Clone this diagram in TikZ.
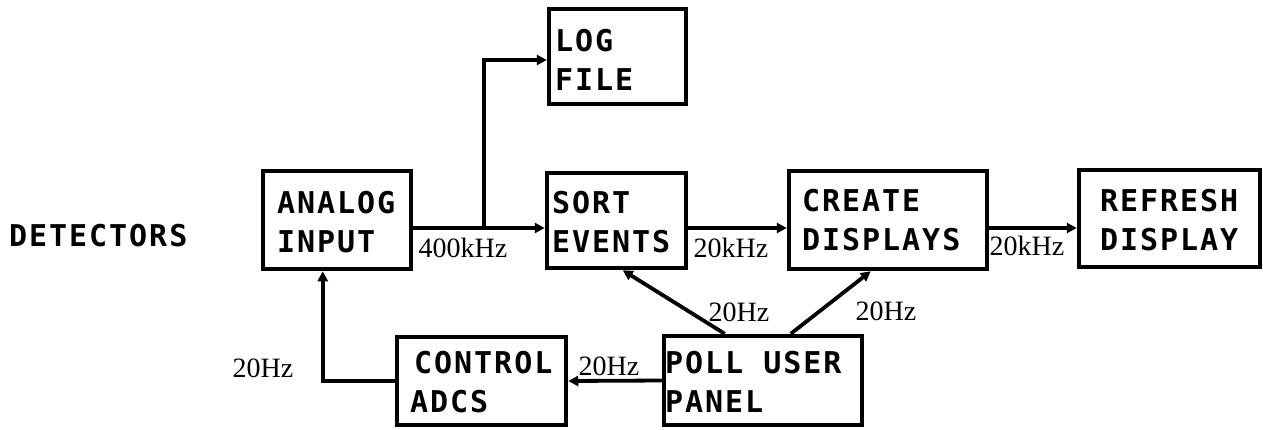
\documentclass[tikz,border=0pt]{standalone}
\usepackage{fontspec}
\setmainfont{Liberation Serif}
\newfontfamily\plotfont[LetterSpace=6.5]{DejaVu Sans Mono}
\usetikzlibrary{arrows.meta}
\begin{document}
\begin{tikzpicture}[x=1pt,y=-1pt,
  box/.style={draw, line width=4.5pt, inner sep=0pt},
  txt/.style={font=\plotfont\bfseries\fontsize{30}{39}\selectfont, align=left, inner sep=0pt, anchor=west},
  rate/.style={font=\fontsize{28}{30}\selectfont, inner sep=0pt, anchor=base},
  conn/.style={line width=3.8pt, -{Triangle[length=10pt,width=10pt]}}]
\useasboundingbox (0,0) rectangle (1263,429);
% boxes
\node[box, minimum width=148pt, minimum height=98pt] (ana) at (337,220) {};
\node[box, minimum width=137pt, minimum height=95pt] (log) at (617.5,56.5) {};
\node[box, minimum width=139pt, minimum height=95pt] (sort) at (616.5,220.5) {};
\node[box, minimum width=198pt, minimum height=98pt] (create) at (888,220) {};
\node[box, minimum width=181pt, minimum height=97pt] (refresh) at (1169.5,218.5) {};
\node[box, minimum width=169pt, minimum height=88pt] (ctrl) at (481.5,381) {};
\node[box, minimum width=198pt, minimum height=89pt] (poll) at (763,380.5) {};
% box texts
\node[txt] (anat) at (277,222) {ANALOG\\INPUT};
\node[txt] (logt) at (555,60) {LOG\\FILE};
\node[txt] (sortt) at (552,222) {SORT\\EVENTS};
\node[txt] (createt) at (802,220) {CREATE\\DISPLAYS};
\node[txt] (refresht) at (1100,220) {REFRESH\\DISPLAY};
\node[txt] (ctrlt) at (410,382) {\hspace*{4pt}CONTROL\\ADCS};
\node[txt] (pollt) at (665,382) {POLL USER\\PANEL};
\node[txt, anchor=base west] (det) at (9,246) {DETECTORS};
% connectors
\coordinate (br) at ([xshift=71pt,yshift=-8pt]ana.east);
\draw[conn] ([yshift=-8pt]ana.east) -- ([yshift=-7.5pt]sort.west);
\draw[conn] (br) |- ([yshift=-3.5pt]log.west);
\draw[conn] ([yshift=-7.5pt]sort.east) -- ([yshift=-8pt]create.west);
\draw[conn] ([yshift=-8pt]create.east) -- ([yshift=-9.5pt]refresh.west);
\draw[conn] (poll.west) -- (ctrl.east);
\draw[conn] (ctrl.west) -| ([xshift=62pt]ana.south west);
\draw[conn] ([xshift=63pt]poll.north west) -- ([xshift=78pt]sort.south west);
\draw[conn] ([xshift=129pt]poll.north west) -- ([xshift=84pt]create.south west);
% rates
\node[rate] (r1) at (463,257) {400kHz};
\node[rate] (r2) at (731,257) {20kHz};
\node[rate] (r3) at (1027,255) {20kHz};
\node[rate] (r4) at (739,321) {20Hz};
\node[rate] (r5) at (886,320) {20Hz};
\node[rate] (r6) at (609,375) {20Hz};
\node[rate] (r7) at (263,377) {20Hz};
\end{tikzpicture}
\end{document}
